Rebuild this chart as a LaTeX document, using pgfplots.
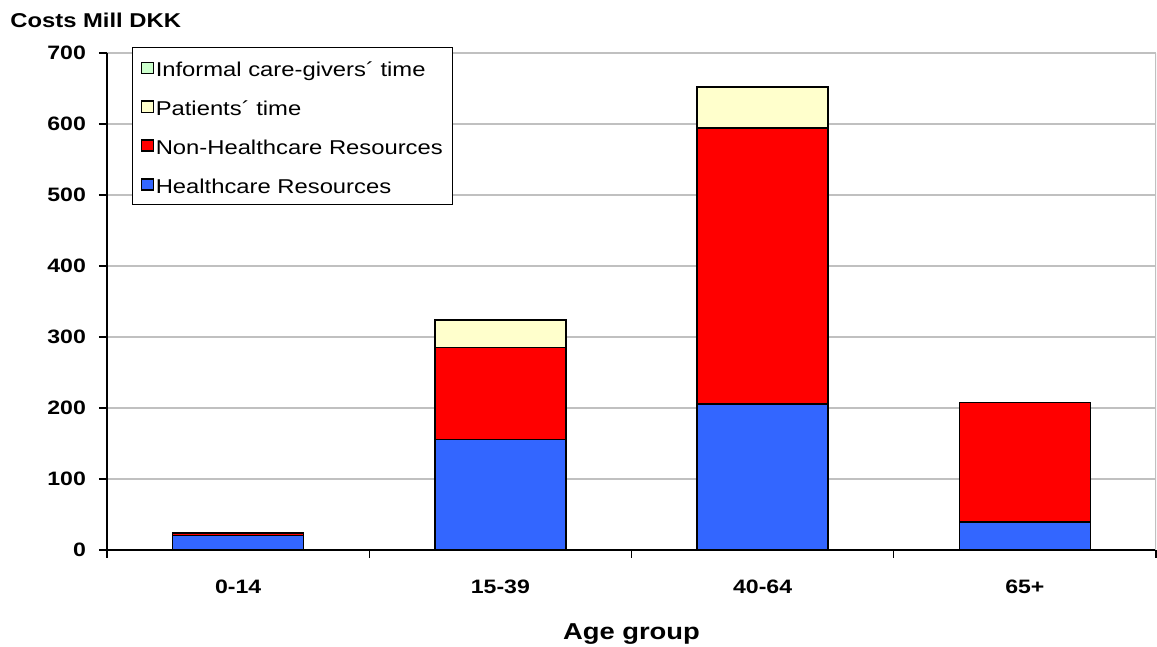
\documentclass[border=0pt]{standalone}
\usepackage{fontspec}
\setmainfont{Liberation Sans}[FakeStretch=1.19]
\usepackage{pgfplots}
\pgfplotsset{compat=1.18}
\definecolor{hc}{HTML}{3366FF}
\definecolor{nhc}{HTML}{FF0000}
\definecolor{ptc}{HTML}{FFFFCC}
\definecolor{infc}{HTML}{CCFFCC}
\definecolor{gridc}{HTML}{C0C0C0}
\begin{document}
\begin{tikzpicture}
\useasboundingbox (-53.5pt,-48.5pt) rectangle (525pt,275pt);
\begin{axis}[
  at={(0,0)}, anchor=south west, scale only axis,
  width=524.5pt, height=248.5pt,
  ybar stacked, bar width=0.5,
  xmin=0.5, xmax=4.5, ymin=0, ymax=700,
  axis x line*=bottom, axis y line*=left,
  axis line style={-, black, line width=0.6pt},
  xtick={1,2,3,4}, xticklabels={0-14,15-39,40-64,65+},
  minor xtick={0.5,1.5,2.5,3.5,4.5},
  ytick={0,100,...,700},
  minor ytick={0,100,...,700},
  xtick pos=bottom, ytick pos=left,
  ymajorgrids, grid style={gridc, line width=0.6pt},
  tick align=outside, major tick length=0pt, minor tick length=4pt,
  tick style={black, line width=0.6pt},
  tick label style={font=\bfseries\fontsize{9.7}{11}\selectfont},
  yticklabel style={xshift=-7pt},
  xticklabel style={yshift=-11.5pt},
  /pgf/number format/assume math mode=true,
  xlabel={Age group},
  xlabel style={at={(axis description cs:0.5,0)}, anchor=base, yshift=-45pt, font=\bfseries\fontsize{11.5}{13}\selectfont},
  legend reversed,
  legend image code/.code={\draw[#1, line width=0.6pt] (0pt,-2.75pt) rectangle (6pt,2.75pt);},
  legend style={at={(rel axis cs:0.0238,1)}, yshift=3pt, anchor=north west,
    draw=black, line width=0.6pt, inner xsep=4pt, inner ysep=2pt, row sep=3.5pt,
    font=\fontsize{10}{12}\selectfont,
    nodes={inner xsep=1pt, inner ysep=1.5pt, text height=11pt, text depth=2pt},
    /tikz/every odd column/.style={column sep=0pt},
    /tikz/every even column/.style={column sep=0pt}},
  legend cell align=left,
]
\draw[gridc, line width=0.6pt] (rel axis cs:1,0) -- (rel axis cs:1,1);
\addplot[fill=hc, draw=black, line width=0.7pt] coordinates {(1,20.5) (2,156) (3,205.5) (4,39.5)};
\addplot[fill=nhc, draw=black, line width=0.7pt] coordinates {(1,3.5) (2,129.5) (3,389) (4,168.5)};
\addplot[fill=ptc, draw=black, line width=0.7pt] coordinates {(1,0) (2,38.5) (3,57.5) (4,0)};
\addplot[fill=infc, draw=black, line width=0.7pt] coordinates {(1,0) (2,0) (3,0) (4,0)};
\legend{Healthcare Resources, Non-Healthcare Resources, Patients´ time, Informal care-givers´ time}
\end{axis}
\node[anchor=base west, inner sep=0pt, font=\bfseries\fontsize{10}{12}\selectfont] at (-48.5pt,261pt) {Costs Mill DKK};
\end{tikzpicture}
\end{document}
